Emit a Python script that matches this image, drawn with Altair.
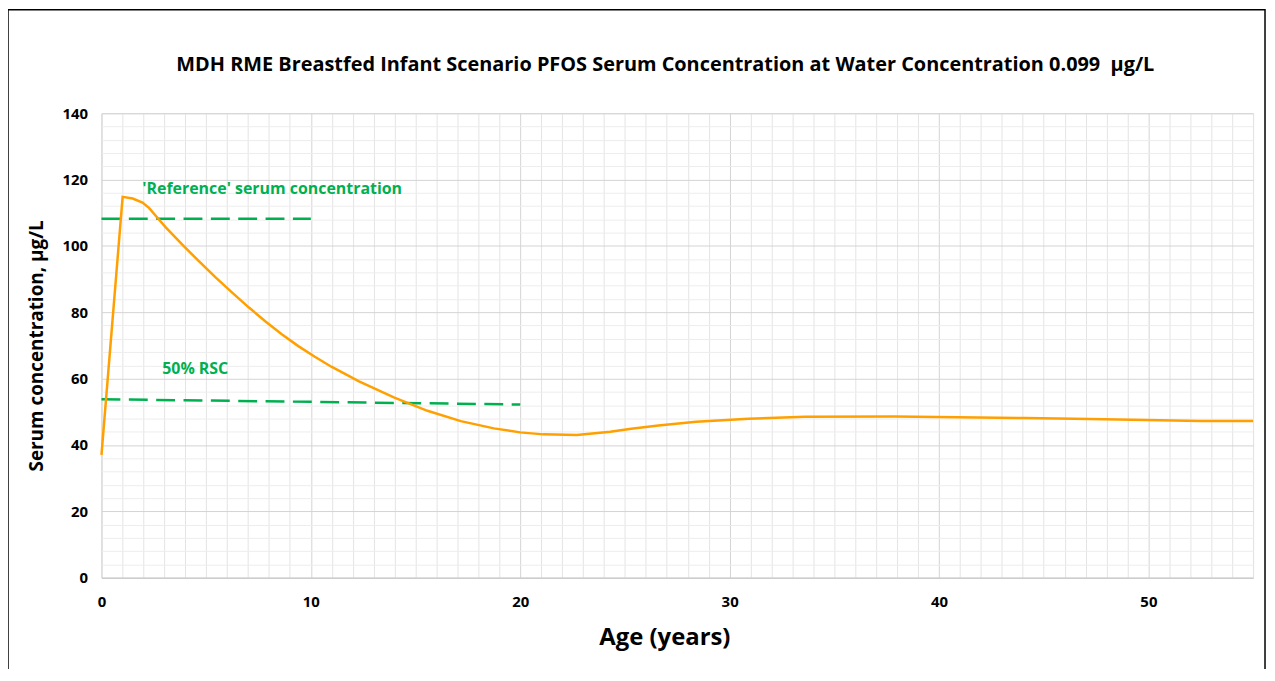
import altair as alt
import pandas as pd

# Serum concentration curve
age = [0.0, 1.01, 1.49, 1.96, 2.28, 2.67, 3.07, 3.86, 4.65, 5.45, 6.23, 7.03, 7.82,
       8.61, 9.4, 10.19, 10.98, 12.3, 13.99, 15.57, 17.16, 18.74, 20.0, 21.1, 22.7,
       24.3, 25.3, 26.6, 28.4, 30.9, 33.6, 37.9, 39.9, 44.1, 47.2, 49.9, 52.5, 55.0]
serum = [37.0, 114.8, 114.3, 113.1, 111.4, 108.5, 105.6, 100.4, 95.4, 90.5, 86.0, 81.5,
         77.3, 73.4, 69.8, 66.6, 63.6, 59.2, 54.3, 50.3, 47.2, 45.0, 43.8, 43.2, 43.0,
         44.0, 44.9, 45.9, 47.0, 47.9, 48.5, 48.6, 48.4, 48.1, 47.8, 47.5, 47.2, 47.2]

# Reference serum concentration line
ref_age = [0, 10]
ref_val = [108.2, 108.2]

# 50% RSC line
rsc_age = [0, 20]
rsc_val = [53.8, 52.2]

# Annotation labels
label_text = ["'Reference' serum concentration", "50% RSC"]
label_age = [1.95, 2.9]
label_val = [117.3, 63.0]

x_ticks = list(range(0, 56))
y_ticks = list(range(0, 141, 4))

FONT = "Open Sans"
GREEN = "#00B050"
ORANGE = "#FFA000"

curve_df = pd.DataFrame({"age": age, "serum": serum})
ref_df = pd.DataFrame({"age": ref_age, "serum": ref_val})
rsc_df = pd.DataFrame({"age": rsc_age, "serum": rsc_val})
lab_df = pd.DataFrame({"age": label_age, "serum": label_val, "text": label_text})

x_scale = alt.Scale(domain=[0, 55], nice=False, zero=False)
y_scale = alt.Scale(domain=[0, 140], nice=False)

x_axis = alt.Axis(
    title="Age (years)",
    values=x_ticks,
    labelExpr="datum.value % 10 === 0 ? datum.label : ''",
    labelOverlap=False,
    grid=True,
    gridColor={"condition": {"test": "datum.value % 10 === 0", "value": "#d4d4d4"}, "value": "#e4e4e4"},
    gridWidth=1,
    ticks=False,
    domain=True,
    domainColor="#c8c8c8",
    labelFont=FONT, labelFontSize=15, labelFontWeight="bold", labelColor="#000000",
    labelPadding=17, labelFlush=False,
    titleFont=FONT, titleFontSize=24, titleFontWeight="bold", titleColor="#000000",
    titlePadding=16, titleX=566,
)
y_axis = alt.Axis(
    title="Serum concentration, µg/L",
    values=y_ticks,
    labelExpr="datum.value % 20 === 0 ? datum.label : ''",
    labelOverlap=False,
    grid=True,
    gridColor={"condition": {"test": "datum.value % 20 === 0", "value": "#d4d4d4"}, "value": "#ededed"},
    gridWidth=1,
    ticks=False,
    domain=False,
    labelFont=FONT, labelFontSize=15, labelFontWeight="bold", labelColor="#000000",
    labelPadding=14, labelFlush=False,
    titleFont=FONT, titleFontSize=19, titleFontWeight="bold", titleColor="#000000",
    titlePadding=16,
)

X = alt.X("age:Q", scale=x_scale, axis=x_axis)
Y = alt.Y("serum:Q", scale=y_scale, axis=y_axis)

curve = alt.Chart(curve_df).mark_line(color=ORANGE, strokeWidth=2.5).encode(x=X, y=Y)
ref = alt.Chart(ref_df).mark_line(color=GREEN, strokeWidth=2.5, strokeDash=[19, 8.5]).encode(x=X, y=Y)
rsc = alt.Chart(rsc_df).mark_line(color=GREEN, strokeWidth=2.5, strokeDash=[19, 8.5]).encode(x=X, y=Y)
labels = alt.Chart(lab_df).mark_text(
    align="left", baseline="middle", font=FONT, fontSize=16, fontWeight="bold", color=GREEN
).encode(x=X, y=Y, text="text:N")

border = alt.Chart(pd.DataFrame({"k": [0]})).mark_rect(
    fill=None, stroke="#000000", strokeWidth=1.5, clip=False
).encode(
    x=alt.value(-94), x2=alt.value(1170), y=alt.value(-104), y2=alt.value(600)
)

chart = alt.layer(ref, rsc, curve, labels, border).properties(
    width=1158,
    height=467,
    title=alt.TitleParams(
        "MDH RME Breastfed Infant Scenario PFOS Serum Concentration at Water Concentration 0.099\u00a0 µg/L",
        font=FONT, fontSize=20, fontWeight="bold", color="#000000",
        anchor="middle", frame="group", offset=-66, dx=-12,
    ),
    autosize=alt.AutoSizeParams(type="none"),
    padding={"left": 94, "top": 104, "right": 14, "bottom": 90},
).configure_view(stroke=None).configure(background="#ffffff")

chart.save("out.html", embed_options={"renderer": "svg", "actions": False})
